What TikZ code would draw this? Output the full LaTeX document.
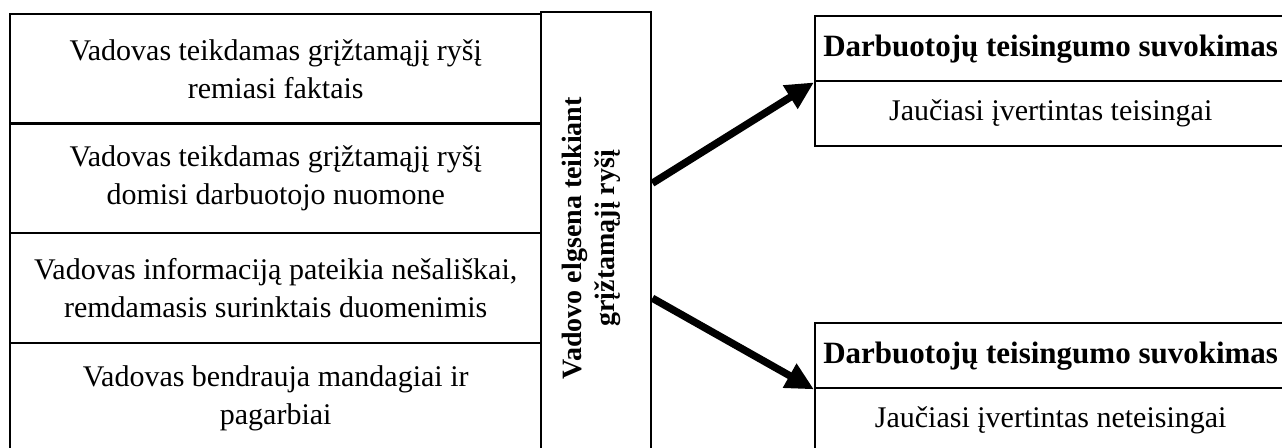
\documentclass[tikz,border=0pt]{standalone}
\usepackage{fontspec}
\setmainfont{Liberation Serif}
\usepackage{tikz}
\usetikzlibrary{arrows.meta}

\begin{document}
\begin{tikzpicture}[x=0.5pt, y=-0.5pt,
        box/.style={draw, line width=1.2pt, anchor=north west, inner sep=0pt, align=center, font=\fontsize{15}{19}\selectfont},
        rowbox/.style={box, minimum width=265.5pt, minimum height=55pt},
        sidebox/.style={box, minimum width=235.5pt, minimum height=32.5pt},
        headbox/.style={sidebox, font=\fontsize{15.5}{19}\selectfont\bfseries},
        fat arrow/.style={-{Triangle[length=14pt,width=13pt]}, line width=3.7pt}]
                        \useasboundingbox (0,0) rectangle (1282,448);
                        \clip (0,0) rectangle (1282,448);
                        \foreach \y/\txt [count=\i] in {13/{Vadovas teikdamas grįžtamąjį ryšį\\remiasi faktais},
                            122/{Vadovas teikdamas grįžtamąjį ryšį\\domisi darbuotojo nuomone},
                            232/{Vadovas informaciją pateikia nešališkai,\\remdamasis surinktais duomenimis},
                            342/{Vadovas bendrauja mandagiai ir\\pagarbiai}}
                        {
                            \node [rowbox] (row\i) at (9,\y) {\txt};
                        }
                        \node [box, minimum width=55pt, minimum height=220pt] (vbox) at (540,11) {};
                        \node [rotate=90, align=center, font=\fontsize{14}{16.5}\selectfont\bfseries] (vtext) at ([xshift=-2.5pt,yshift=-3pt]vbox.center) {Vadovo elgsena teikiant\\grįžtamąjį ryšį};
                        \foreach \y/\txt [count=\i] in {15/{Jaučiasi įvertintas teisingai}, 322/{Jaučiasi įvertintas neteisingai}}
                        {
                            \node [headbox] (head\i) at (814,\y) {Darbuotojų teisingumo suvokimas};
                            \node [sidebox] (body\i) at (814,\y+65) {\txt};
                        }
                        \draw [fat arrow] ([yshift=24.5pt]vbox.east) -- (head1.south west);
                        \draw [fat arrow] ([yshift=-33pt]vbox.east) -- (head2.south west);
                    \end{tikzpicture}
\end{document}
